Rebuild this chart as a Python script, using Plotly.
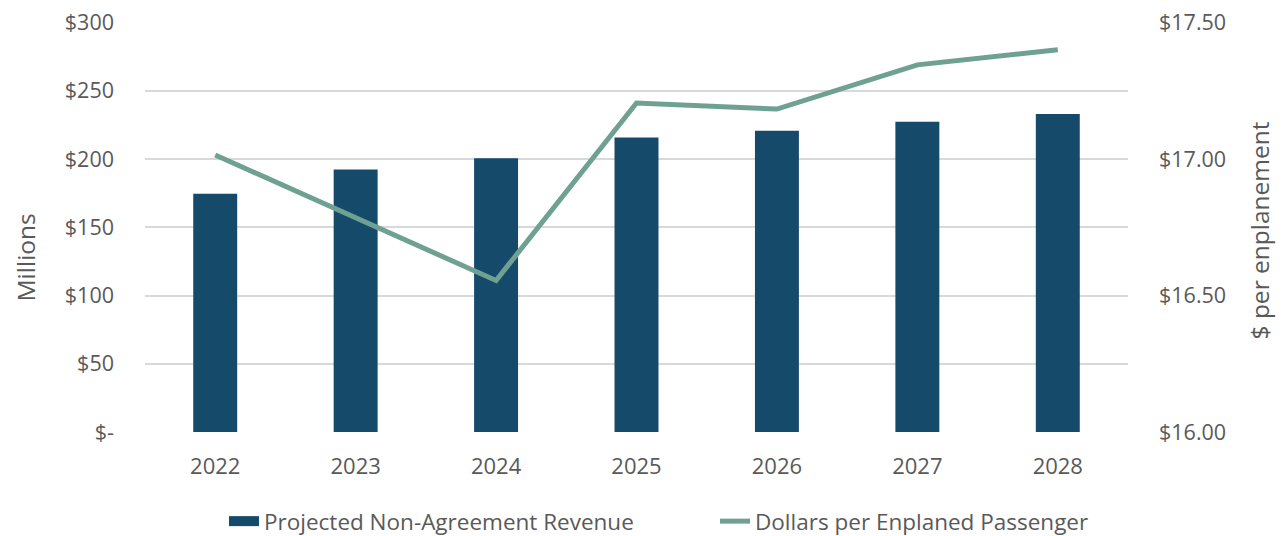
import plotly.graph_objects as go

years = ["2022", "2023", "2024", "2025", "2026", "2027", "2028"]
revenue = [174.5, 192.3, 200.5, 215.8, 220.7, 227.3, 233.0]
per_enpl = [17.015, 16.786, 16.555, 17.205, 17.183, 17.345, 17.40]

left_ticks = [0, 50, 100, 150, 200, 250, 300]
left_text = ["$-", "$50", "$100", "$150", "$200", "$250", "$300"]
right_ticks = [16.0, 16.5, 17.0, 17.5]
right_text = ["$16.00", "$16.50", "$17.00", "$17.50"]

txt = "#595959"
font = "Open Sans"
bar_color = "#154A6A"
line_color = "#6FA193"

# page body adds an 8px offset; compensate so the plot sits where the reference has it
OFF = 8
TOP_PAD = 0.4  # tiny headroom so the top gridline is drawn

fig = go.Figure()
fig.add_trace(go.Bar(x=years, y=revenue, name="Projected Non-Agreement Revenue",
                     marker=dict(color=bar_color, line=dict(width=0)), yaxis="y",
                     showlegend=False))
fig.add_trace(go.Scatter(x=[None], y=[None], mode="lines", name="Projected Non-Agreement Revenue",
                         line=dict(color=bar_color, width=15), yaxis="y"))
fig.add_trace(go.Scatter(x=years, y=per_enpl, name="Dollars per Enplaned Passenger",
                         mode="lines", line=dict(color=line_color, width=5), yaxis="y2"))

fig.update_layout(
    width=1284, height=536,
    margin=dict(l=145 - OFF, r=156 + OFF, t=22 - OFF, b=104 + OFF),
    paper_bgcolor="white", plot_bgcolor="white",
    font=dict(family=font, size=22, color=txt),
    bargap=0.687,
    showlegend=True,
    legend=dict(orientation="h", xref="container", yref="container",
                x=(224 - OFF) / 1284, xanchor="left",
                y=(536 - (521.5 - OFF)) / 536, yanchor="middle",
                font=dict(size=22.5, color=txt), traceorder="normal",
                entrywidth=446, entrywidthmode="pixels", bgcolor="rgba(0,0,0,0)"),
    xaxis=dict(showgrid=False, zeroline=False, showline=False, ticks="", automargin=False,
               tickfont=dict(size=22, color=txt), ticklabelstandoff=19),
    yaxis=dict(range=[0, 300 + TOP_PAD], tickvals=left_ticks, ticktext=left_text, automargin=False,
               showgrid=True, gridcolor="#D9D9D9", gridwidth=1.5, zeroline=False,
               ticks="", ticklabelstandoff=30, ticklabeloverflow="allow",
               tickfont=dict(size=21.5, color=txt)),
    yaxis2=dict(range=[16.0, 16.0 + 1.5 * (300 + TOP_PAD) / 300], tickvals=right_ticks,
                ticktext=right_text, automargin=False,
                overlaying="y", side="right", showgrid=False, zeroline=False,
                ticks="", ticklabelstandoff=30, ticklabeloverflow="allow",
                tickfont=dict(size=21.5, color=txt)),
    annotations=[
        dict(text="Millions", textangle=-90, xref="paper", yref="paper",
             x=(25 - 145) / 983, y=(432 - 257) / 411, xanchor="center", yanchor="middle",
             showarrow=False, font=dict(size=24.5, color=txt)),
        dict(text="$ per enplanement", textangle=-90, xref="paper", yref="paper",
             x=(1259 - 145) / 983, y=(432 - 230) / 411, xanchor="center", yanchor="middle",
             showarrow=False, font=dict(size=24.5, color=txt)),
    ],
)

fig.write_html("out.html")
